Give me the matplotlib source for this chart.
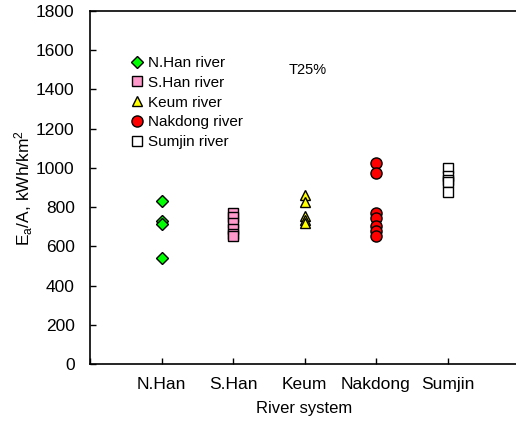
import numpy as np
import matplotlib.pyplot as plt

plt.rcParams['font.family'] = ['Liberation Sans', 'DejaVu Sans']
plt.rcParams['mathtext.default'] = 'regular'

# energy per unit area for each river system
rivers = ['N.Han', 'S.Han', 'Keum', 'Nakdong', 'Sumjin']
nhan = [832, 728, 715, 543]
shan = [770, 750, 720, 690, 665, 655]
keum = [860, 825, 755, 735, 720]
nakdong = [1023, 975, 770, 745, 705, 680, 655]
sumjin = [1000, 960, 940, 930, 875]

series = [nhan, shan, keum, nakdong, sumjin]
names = ['N.Han river', 'S.Han river', 'Keum river', 'Nakdong river', 'Sumjin river']
markers = ['D', 's', '^', 'o', 's']
faces = ['#00ff00', '#ff99cc', '#ffff00', '#ff0000', 'white']
sizes = [6, 7.5, 7.5, 8, 7.5]

fig = plt.figure(figsize=(5.16, 4.23), dpi=100)
ax = fig.add_axes([90/516, 59/423, 429/516, 353/423])

for i, vals in enumerate(series):
    ax.plot([i + 1] * len(vals), vals, linestyle='none', marker=markers[i],
            markersize=sizes[i], markerfacecolor=faces[i], markeredgecolor='black',
            markeredgewidth=1.0, label=names[i])

ax.set_xlim(0, 6)
ax.set_ylim(0, 1800)
ax.set_yticks(np.arange(0, 1801, 200))
ax.set_xticks(range(0, 7))
ax.set_xticklabels([''] + rivers + [''])
ax.tick_params(direction='in', length=4, labelsize=12.5, width=1)
ax.tick_params(axis='y', pad=11)
ax.tick_params(axis='x', pad=9)
ax.spines['right'].set_visible(False)
for s in ['left', 'top', 'bottom']:
    ax.spines[s].set_linewidth(1.2)

ax.set_xlabel('River system', fontsize=12, labelpad=7)
ax.set_ylabel('E$_a$/A, kWh/km$^2$', fontsize=12.5, labelpad=1)

fig.text(308/516, 1 - 70/423, 'T25%', fontsize=10.5, ha='center', va='center')

ax.legend(loc='upper left', bbox_to_anchor=(131/516, 1 - 56/423),
          bbox_transform=fig.transFigure, frameon=False, fontsize=11,
          handlelength=0.8, handletextpad=0.3, labelspacing=0.38,
          borderpad=0, borderaxespad=0, numpoints=1)

fig.savefig('out.png', dpi=100)
